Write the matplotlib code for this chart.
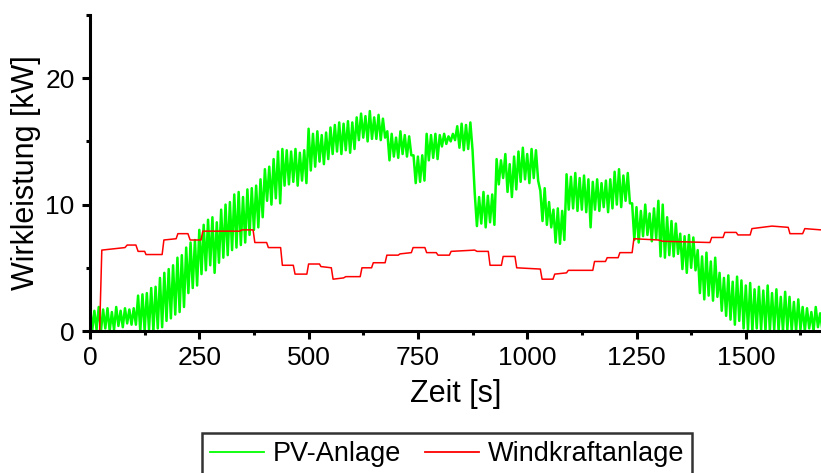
import numpy as np
import matplotlib
matplotlib.use("Agg")
import matplotlib.pyplot as plt
from matplotlib.ticker import MultipleLocator

plt.rcParams['font.family'] = ['Liberation Sans', 'DejaVu Sans']

# PV output: one peak and one trough per 10 s cycle, starting at t = 0 s
pv_cycle_s = 10
pv_peak = [
    2.0, 1.6, 1.9, 1.7, 1.8, 1.5, 1.9, 1.6, 1.8, 1.7,
    1.8, 2.8, 2.9, 3.0, 3.4, 3.5, 4.2, 4.6, 4.9, 5.2,
    5.8, 6.0, 6.6, 7.0, 7.2, 8.0, 8.4, 8.8, 9.0, 8.6,
    9.6, 10.0, 10.2, 10.8, 11.0, 10.6, 11.2, 11.3, 11.5, 12.0,
    12.8, 13.0, 13.6, 14.2, 14.4, 14.3, 14.2, 14.4, 14.1, 14.3,
    16.0, 15.6, 15.8, 15.5, 15.7, 16.1, 16.3, 16.5, 16.4, 16.6,
    16.5, 16.9, 17.2, 17.0, 17.4, 16.9, 17.1, 16.8, 15.8, 15.6,
    15.3, 15.8, 15.5, 15.4, 13.9, 13.8, 13.9, 15.6, 15.5, 15.6,
    15.5, 15.6, 15.4, 15.6, 16.2, 16.4, 16.3, 16.5, 10.9, 10.6,
    11.0, 10.7, 10.8, 13.6, 13.5, 14.0, 13.2, 13.8, 14.2, 14.5,
    14.0, 14.4, 14.3, 11.1, 11.3, 10.2, 9.6, 9.7, 9.5, 12.4,
    12.2, 12.5, 12.1, 12.3, 12.0, 11.8, 12.0, 11.7, 11.9, 12.0,
    12.6, 12.8, 12.3, 12.5, 10.1, 9.8, 9.5, 10.0, 9.3, 9.7,
    10.3, 10.0, 9.0, 8.7, 8.5, 7.7, 7.5, 7.6, 7.4, 6.4,
    5.9, 6.2, 5.5, 5.8, 4.6, 4.2, 4.4, 3.9, 4.3, 4.0,
    3.6, 3.8, 3.3, 3.5, 3.2, 3.6, 3.0, 3.3, 2.7, 3.1,
    2.7, 2.3, 2.5, 1.9, 1.8, 1.5, 1.9, 1.4,
]
pv_trough = [
    0.0, 0.1, 0.0, 0.2, 0.0, 0.1, 0.4, 0.3, 0.6, 0.5,
    0.5, 0.0, 0.0, 0.1, 0.0, 0.2, 0.3, 0.8, 1.0, 1.3,
    1.5, 1.9, 3.0, 3.4, 3.6, 4.5, 4.8, 5.2, 4.6, 5.4,
    5.8, 6.0, 6.4, 6.6, 6.8, 7.0, 7.6, 8.0, 8.2, 9.0,
    10.3, 10.0, 10.5, 10.1, 11.5, 11.6, 11.8, 11.5, 11.9, 11.7,
    12.7, 13.0, 13.4, 13.2, 13.6, 14.0, 14.2, 14.0, 14.3, 14.1,
    14.4, 15.1, 15.3, 15.0, 15.2, 15.2, 15.1, 15.3, 13.5, 13.8,
    13.7, 14.0, 13.8, 13.9, 11.7, 11.8, 11.9, 13.5, 13.7, 13.6,
    14.6, 14.8, 15.0, 15.1, 14.5, 14.3, 14.4, 14.3, 8.3, 8.5,
    8.2, 8.6, 8.4, 11.6, 12.1, 11.0, 10.6, 11.2, 11.8, 12.0,
    11.7, 12.1, 11.9, 8.7, 8.4, 8.2, 7.0, 6.9, 7.2, 9.6,
    9.7, 9.5, 9.6, 9.4, 8.2, 9.6, 9.5, 9.8, 9.4, 9.7,
    10.0, 9.8, 10.3, 10.1, 7.2, 7.0, 7.5, 7.6, 7.1, 7.3,
    5.9, 5.8, 6.0, 5.9, 6.1, 4.9, 4.6, 5.0, 4.8, 3.0,
    2.5, 2.8, 2.4, 2.7, 1.6, 1.2, 0.9, 0.5, 0.8, 0.2,
    0.1, 0.0, 0.2, 0.1, 0.0, 0.0, 0.1, 0.0, 0.0, 0.1,
    0.0, 0.0, 0.1, 0.0, 0.2, 0.0, 0.3, 0.1,
]

# Wind turbine output at its step points
wind_t = [0, 22, 27, 80, 85, 105, 110, 125, 128, 165, 169, 197, 201, 224, 229,
          254, 258, 343, 347, 373, 377, 404, 408, 436, 440, 465, 469, 496, 500,
          525, 528, 552, 556, 580, 585, 618, 622, 644, 648, 675, 679, 705, 709,
          735, 739, 766, 770, 792, 796, 822, 826, 880, 885, 911, 915, 941, 945,
          972, 976, 1030, 1034, 1059, 1063, 1090, 1094, 1150, 1154, 1179, 1183,
          1208, 1212, 1240, 1244, 1300, 1310, 1418, 1422, 1448, 1452, 1478, 1482,
          1510, 1514, 1560, 1597, 1601, 1630, 1635, 1672]
wind_kw = [0.0, 0.0, 6.4, 6.6, 6.8, 6.8, 6.3, 6.3, 6.05, 6.05, 7.2, 7.3, 7.7, 7.7, 7.2,
           7.2, 7.9, 7.9, 8.0, 8.0, 7.0, 7.0, 6.6, 6.6, 5.2, 5.2, 4.5, 4.5, 5.3,
           5.3, 5.1, 5.0, 4.1, 4.2, 4.3, 4.3, 5.0, 5.0, 5.4, 5.4, 6.0, 6.0, 6.1,
           6.2, 6.6, 6.6, 6.2, 6.2, 6.0, 6.0, 6.3, 6.4, 6.3, 6.3, 5.2, 5.2, 5.9,
           5.9, 5.0, 4.9, 4.1, 4.1, 4.5, 4.6, 4.8, 4.8, 5.5, 5.5, 5.8,
           5.8, 6.2, 6.2, 7.3, 7.2, 7.1, 7.0, 7.4, 7.4, 7.8, 7.8, 7.6,
           7.6, 8.1, 8.3, 8.2, 7.7, 7.7, 8.1, 8.0]

x_ticks = [0, 250, 500, 750, 1000, 1250, 1500]
y_ticks = [0, 10, 20]

# interleave peaks and troughs into one time series
n = len(pv_peak)
pv_t = np.empty(2 * n)
pv_t[0::2] = np.arange(n) * pv_cycle_s
pv_t[1::2] = np.arange(n) * pv_cycle_s + pv_cycle_s / 2
pv_kw = np.empty(2 * n)
pv_kw[0::2] = pv_peak
pv_kw[1::2] = pv_trough

fig = plt.figure(figsize=(8.21, 4.73), dpi=100)
ax = fig.add_axes([90 / 821, 1 - 331 / 473, 1 - 90 / 821, (331 - 15) / 473])

ax.plot(pv_t, pv_kw, color='#00ff00', lw=1.8, label='PV-Anlage', zorder=2)
ax.plot(wind_t, wind_kw, color='#ff0000', lw=1.1, label='Windkraftanlage', zorder=3)

ax.set_xlim(0, 1672)
ax.set_ylim(0, 25)
ax.set_xticks(x_ticks)
ax.set_yticks(y_ticks)
ax.xaxis.set_minor_locator(MultipleLocator(125))
ax.yaxis.set_minor_locator(MultipleLocator(5))

for s in ('top', 'right'):
    ax.spines[s].set_visible(False)
for s in ('left', 'bottom'):
    ax.spines[s].set_linewidth(2.2)
    ax.spines[s].set_zorder(4)

ax.tick_params(which='major', direction='out', length=6, width=2.2,
               labelsize=19, pad=5)
ax.tick_params(which='minor', direction='out', length=3, width=2.2)

ax.set_xlabel('Zeit [s]', fontsize=22, labelpad=6)
ax.set_ylabel('Wirkleistung [kW]', fontsize=22, labelpad=3)

leg = fig.legend(loc='upper center', bbox_to_anchor=(447 / 821, 1 - 433 / 473),
                 ncol=2, fontsize=19.5, frameon=True, fancybox=False,
                 edgecolor='black', handlelength=2.0, handletextpad=0.3,
                 columnspacing=0.9, borderpad=0.3, borderaxespad=0)
leg.get_frame().set_linewidth(1.8)
for h in leg.get_lines():
    h.set_linewidth(1.3)

fig.savefig('out.png', dpi=100)
